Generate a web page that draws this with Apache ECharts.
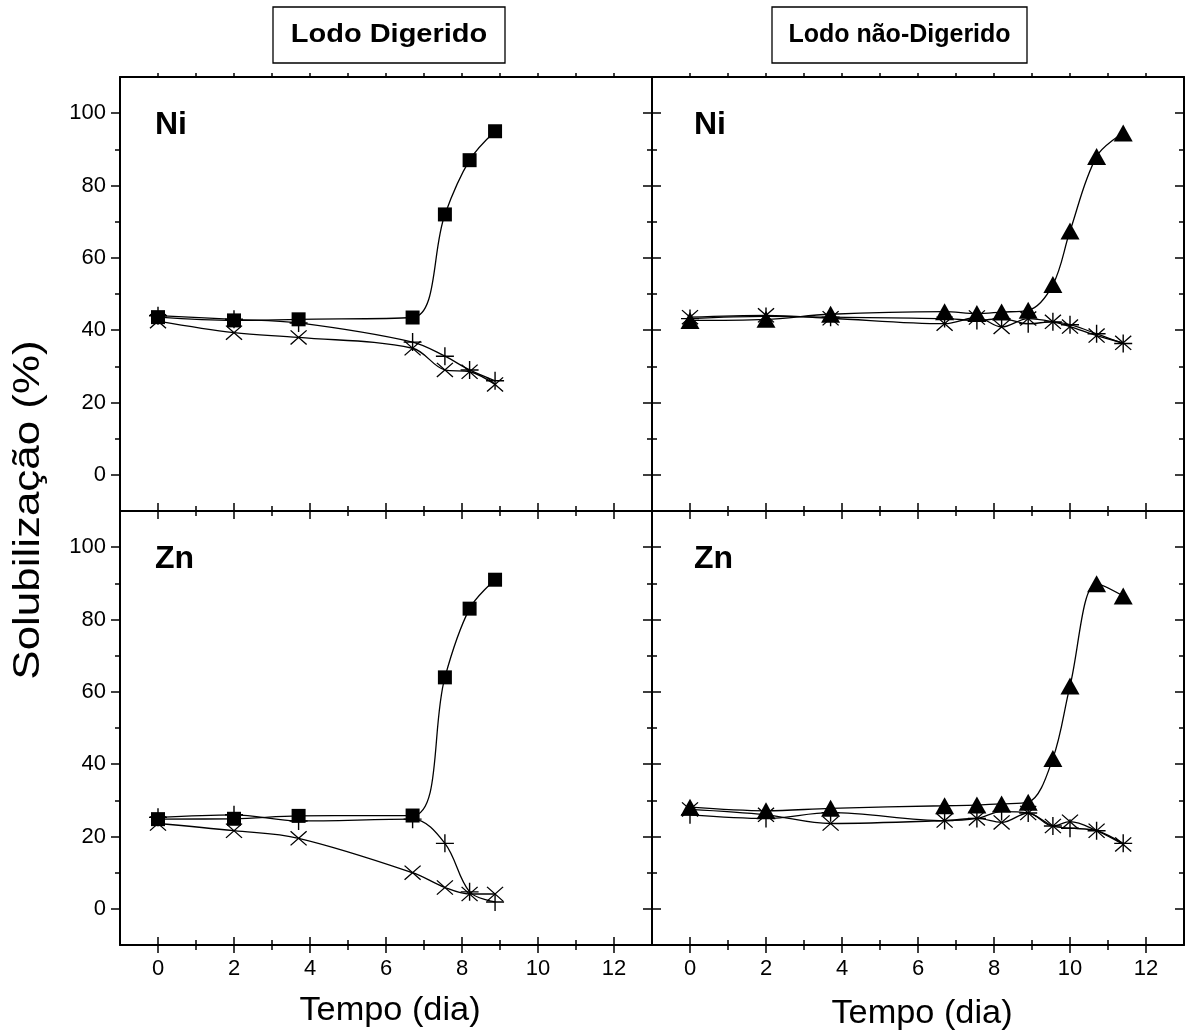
<!DOCTYPE html>
<html>
<head>
<meta charset="utf-8">
<script src="https://cdn.jsdelivr.net/npm/echarts@6/dist/echarts.min.js"></script>
<style>
  html, body { margin: 0; padding: 0; background: #fff; }
  #chart { width: 1186px; height: 1033px; }
</style>
</head>
<body>
<div id="chart"></div>
<script>
// Sampling days (Tempo, dia)
const daysDigested   = [0, 2, 3.7, 6.7, 7.55, 8.2, 8.87];
const daysUndigested = [0, 2, 3.7, 6.7, 7.55, 8.2, 8.9, 9.55, 10, 10.7, 11.4];

// Lodo Digerido — Ni (%)
const niDigSquare = [43.6, 42.7, 43.0, 43.5, 72.0, 87.0, 95.0];
const niDigPlus   = [44.0, 43.0, 42.0, 36.7, 32.8, 29.0, 26.0];
const niDigCross  = [42.5, 39.3, 38.0, 35.0, 29.0, 28.5, 25.0];

// Lodo Digerido — Zn (%)
const znDigSquare = [24.8, 24.9, 25.7, 25.8, 64.0, 83.0, 91.0];
const znDigPlus   = [25.3, 26.0, 24.3, 24.8, 18.1, 4.7, 1.9];
const znDigCross  = [23.6, 21.6, 19.5, 10.0, 5.9, 4.1, 4.1];

// Lodo não-Digerido — Ni (%)
const niRawTriangle = [42.7, 43.0, 44.4, 45.1, 44.6, 45.0, 45.5, 52.6, 67.4, 88.0, 94.5];
const niRawPlus     = [43.2, 43.8, 43.6, 43.2, 42.7, 43.2, 41.8, 42.3, 41.5, 39.0, 36.3];
const niRawCross    = [43.6, 44.1, 43.3, 41.8, 43.5, 40.9, 43.2, 42.3, 41.0, 38.5, 36.5];

// Lodo não-Digerido — Zn (%)
const znRawTriangle = [28.1, 27.1, 27.8, 28.5, 28.7, 29.0, 29.5, 41.6, 61.6, 89.9, 86.5];
const znRawPlus     = [26.0, 25.0, 26.6, 24.4, 25.0, 26.9, 26.5, 22.9, 22.3, 21.6, 18.1];
const znRawCross    = [27.5, 26.0, 23.6, 24.4, 25.0, 23.9, 26.5, 22.9, 24.1, 21.6, 17.8];

// Tick positions
const xMajorTicks = [0, 2, 4, 6, 8, 10, 12];
const xMinorTicks = [1, 3, 5, 7, 9, 11];
const yMajorTicks = [0, 20, 40, 60, 80, 100];
const yMinorTicks = [10, 30, 50, 70, 90];

const FONT = '"Liberation Sans", Arial, sans-serif';
const PLUS  = 'path://M0,8.3H18V9.7H0Z M8.3,0H9.7V18H8.3Z';
const CROSS = 'path://M0,1L1,0L18,17L17,18Z M17,0L18,1L1,18L0,17Z';

const panels = [
  { left: 120, top: 77,  days: daysDigested,   main: niDigSquare,   plus: niDigPlus, cross: niDigCross, marker: 'rect',     size: 14,       bottomRow: false, leftCol: true,  tag: 'Ni' },
  { left: 652, top: 77,  days: daysUndigested, main: niRawTriangle, plus: niRawPlus, cross: niRawCross, marker: 'triangle', size: [19, 17], bottomRow: false, leftCol: false, tag: 'Ni' },
  { left: 120, top: 511, days: daysDigested,   main: znDigSquare,   plus: znDigPlus, cross: znDigCross, marker: 'rect',     size: 14,       bottomRow: true,  leftCol: true,  tag: 'Zn' },
  { left: 652, top: 511, days: daysUndigested, main: znRawTriangle, plus: znRawPlus, cross: znRawCross, marker: 'triangle', size: [19, 17], bottomRow: true,  leftCol: false, tag: 'Zn' }
];

function makeAxis(kind, gi, pos, ticks, len, inside, line, labels) {
  const isX = kind === 'x';
  return {
    type: 'value', gridIndex: gi, position: pos,
    min: isX ? -1 : -10, max: isX ? 13 : 110,
    axisLine: { show: line, onZero: false, lineStyle: { color: '#000', width: 2 } },
    axisTick: { show: true, customValues: ticks, length: len, inside: inside,
                lineStyle: { color: '#000', width: 1.5 } },
    axisLabel: { show: labels, customValues: ticks, color: '#000', fontFamily: FONT,
                 fontSize: 22, margin: isX ? 13 : 14 },
    splitLine: { show: false }
  };
}

const grids = [], xAxes = [], yAxes = [], series = [], graphics = [];

panels.forEach((p, gi) => {
  grids.push({ left: p.left, top: p.top, width: 532, height: 434 });

  const xi = xAxes.length;
  if (p.bottomRow) {
    xAxes.push(makeAxis('x', gi, 'bottom', xMajorTicks, 8, false, true, true));
    xAxes.push(makeAxis('x', gi, 'bottom', xMinorTicks, 5, false, false, false));
    xAxes.push(makeAxis('x', gi, 'bottom', xMajorTicks, 8, true, false, false));
    xAxes.push(makeAxis('x', gi, 'bottom', xMinorTicks, 5, true, false, false));
    xAxes.push(makeAxis('x', gi, 'top', xMajorTicks, 8, true, true, false));
    xAxes.push(makeAxis('x', gi, 'top', xMinorTicks, 5, true, false, false));
  } else {
    xAxes.push(makeAxis('x', gi, 'bottom', xMajorTicks, 8, true, true, false));
    xAxes.push(makeAxis('x', gi, 'bottom', xMinorTicks, 5, true, false, false));
    xAxes.push(makeAxis('x', gi, 'top', xMajorTicks, 4, false, true, false));
    xAxes.push(makeAxis('x', gi, 'top', xMinorTicks, 4, false, false, false));
  }

  const yi = yAxes.length;
  if (p.leftCol) {
    yAxes.push(makeAxis('y', gi, 'left', yMajorTicks, 9, false, true, true));
    yAxes.push(makeAxis('y', gi, 'left', yMinorTicks, 5, false, false, false));
  } else {
    yAxes.push(makeAxis('y', gi, 'left', yMajorTicks, 9, true, true, false));
    yAxes.push(makeAxis('y', gi, 'left', yMinorTicks, 5, true, false, false));
  }
  yAxes.push(makeAxis('y', gi, 'right', yMajorTicks, 9, true, true, false));
  yAxes.push(makeAxis('y', gi, 'right', yMinorTicks, 5, true, false, false));

  const mk = (vals, symbol, size, z) => ({
    type: 'line', xAxisIndex: xi, yAxisIndex: yi,
    data: p.days.map((d, i) => [d, vals[i]]),
    symbol: symbol, symbolSize: size, showAllSymbol: true,
    smooth: 0.35,
    lineStyle: { color: '#000', width: 1.3 },
    itemStyle: { color: '#000', borderWidth: 0 },
    silent: true, animation: false, z: z
  });
  series.push(mk(p.cross, CROSS, [17, 15], 2));
  series.push(mk(p.plus, PLUS, 18, 3));
  series.push(mk(p.main, p.marker, p.size, 4));

  graphics.push({
    type: 'text', x: p.left + (p.leftCol ? 35 : 42), y: p.top + 48,
    style: { text: p.tag, font: 'bold 32px ' + FONT, fill: '#000',
             textAlign: 'left', textVerticalAlign: 'middle' }
  });
});

// Column header boxes
[
  { x: 273, w: 232, text: 'Lodo Digerido',     sx: 1.16 },
  { x: 772, w: 255, text: 'Lodo não-Digerido', sx: 1.0 }
].forEach(b => {
  graphics.push({ type: 'rect', shape: { x: b.x, y: 7, width: b.w, height: 56 },
                  style: { fill: 'none', stroke: '#000', lineWidth: 1.3 } });
  graphics.push({ type: 'text', x: b.x + b.w / 2, y: 35, scaleX: b.sx,
                  style: { text: b.text, font: 'bold 25px ' + FONT, fill: '#000',
                           textAlign: 'center', textVerticalAlign: 'middle' } });
});

// Axis titles
graphics.push({ type: 'text', x: 390, y: 1011, scaleX: 1.04,
  style: { text: 'Tempo (dia)', font: '33px ' + FONT, fill: '#000', textAlign: 'center', textVerticalAlign: 'middle' } });
graphics.push({ type: 'text', x: 922, y: 1014, scaleX: 1.04,
  style: { text: 'Tempo (dia)', font: '33px ' + FONT, fill: '#000', textAlign: 'center', textVerticalAlign: 'middle' } });
graphics.push({ type: 'text', x: 29, y: 510, rotation: Math.PI / 2, scaleX: 1.22,
  style: { text: 'Solubilização (%)', font: '36px ' + FONT, fill: '#000', textAlign: 'center', textVerticalAlign: 'middle' } });

const chart = echarts.init(document.getElementById('chart'), null, { renderer: 'canvas' });
chart.setOption({
  backgroundColor: '#fff',
  animation: false,
  grid: grids,
  xAxis: xAxes,
  yAxis: yAxes,
  series: series,
  graphic: graphics
});
</script>
</body>
</html>
